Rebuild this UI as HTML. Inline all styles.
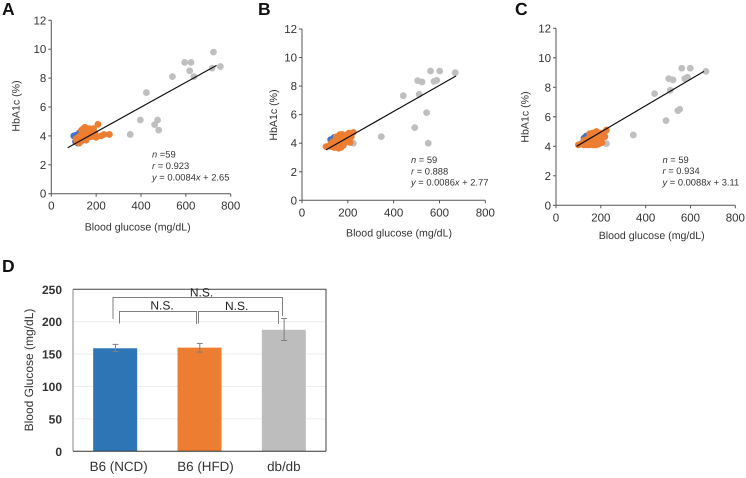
<!DOCTYPE html>
<html lang="en">
<head>
<meta charset="utf-8">
<title>Blood glucose and HbA1c figure</title>
<style>
html,body{margin:0;padding:0;background:#fff;}
body{width:746px;height:478px;overflow:hidden;}
svg{display:block;font-family:"Liberation Sans",sans-serif;text-rendering:geometricPrecision;filter:blur(0.3px);}
</style>
</head>
<body>
<svg id="figure" xmlns="http://www.w3.org/2000/svg" width="746" height="478" viewBox="0 0 746 478"></svg>
<script>
/* ---------- Panel A ---------- */
const aGrayGlucose = [352,397,424,461,474,479,540,595,623,617,636,717,723,754];
const aGrayHba1c = [4.1,5.1,7.0,4.78,5.1,4.4,8.1,9.09,9.09,8.5,8.1,8.68,9.8,8.8];
const aBlueGlucose = [100,110,125,132,108,118,170,185,140,150];
const aBlueHba1c = [4.0,4.05,4.2,4.3,3.6,3.5,4.0,4.0,3.7,3.9];
const aOrangeGlucose = [259,235,222,208,200,195,188,180,170,160,150,143,135,155,145,155,130,125,115,110,120,140,165,180,150,128,170];
const aOrangeHba1c = [4.1,4.1,4.0,4.8,3.9,4.2,4.5,4.1,4.2,4.3,4.6,4.5,4.4,4.0,3.9,3.7,3.7,3.5,3.6,3.8,3.9,4.1,3.9,3.95,4.3,4.0,4.5];
const aTrendGlucose = [73,737];
const aTrendHba1c = [3.18,8.88];
const aStats = ["=59","= 0.923","= 0.0084","+ 2.65"];

/* ---------- Panel B ---------- */
const bGrayGlucose = [224,346,442,492,505,511,524,544,551,561,601,576,588,669];
const bGrayHba1c = [4.0,4.46,7.33,5.09,8.38,7.42,8.29,6.14,4.0,9.06,9.06,8.33,8.4,8.94];
const bBlueGlucose = [125,140,150];
const bBlueHba1c = [4.25,4.4,4.3];
const bOrangeGlucose = [105,118,130,140,150,160,170,180,125,135,145,155,165,175,185,195,205,215,224,150,160,170,180,190,200,210,165,175,185,140,150,195,205];
const bOrangeHba1c = [3.76,3.8,3.75,3.7,3.7,3.65,3.7,3.85,3.95,4.1,4.2,4.3,4.4,4.5,4.55,4.6,4.5,4.45,4.76,3.95,4.05,4.15,4.3,4.2,4.4,4.05,4.6,4.62,4.0,3.9,4.45,4.35,4.7];
const bTrendGlucose = [105,672];
const bTrendHba1c = [3.53,8.71];
const bStats = ["= 59","= 0.888","= 0.0086","+ 2.77"];

/* ---------- Panel C ---------- */
const cGrayGlucose = [225,345,440,491,503,510,522,544,552,561,599,575,587,669];
const cGrayHba1c = [4.18,4.77,7.57,5.74,8.59,7.8,8.5,6.42,6.51,9.29,9.29,8.59,8.68,9.08];
const cBlueGlucose = [125,135,115];
const cBlueHba1c = [4.55,4.7,4.2];
const cOrangeGlucose = [100,112,125,138,150,165,178,190,205,125,140,155,170,185,200,150,165,180,195,210,225,215,160,175,190,205,218,140,155,170,185,198,210];
const cOrangeHba1c = [4.1,4.15,4.1,4.1,4.1,4.1,4.1,4.15,4.25,4.4,4.5,4.6,4.7,4.8,4.7,4.85,4.9,5.0,4.9,4.8,5.1,4.85,4.4,4.5,4.45,4.55,4.65,4.25,4.3,4.3,4.3,4.6,4.9];
const cTrendGlucose = [92,660];
const cTrendHba1c = [4.0,9.08];
const cStats = ["= 59","= 0.934","= 0.0088","+ 3.11"];

/* ---------- Scatter axes ---------- */
const glucoseTicks = [0,200,400,600,800];
const hba1cTicks = [0,2,4,6,8,10,12];

/* ---------- Panel D ---------- */
const groupLabels = ["B6 (NCD)","B6 (HFD)","db/db"];
const groupMeans = [159,160,187.5];
const groupErrLow = [154,153,171];
const groupErrHigh = [165,166.5,205];
const barTicks = [0,50,100,150,200,250];

const GRAY = "#bfbfbf", BLUE = "#4472c4", ORANGE = "#ed7d31";
const NS = "http://www.w3.org/2000/svg";
const root = document.getElementById("figure");

function make(tag, attrs, parent, text) {
  const el = document.createElementNS(NS, tag);
  for (const k in attrs) el.setAttribute(k, attrs[k]);
  if (text !== undefined) el.textContent = text;
  (parent || root).appendChild(el);
  return el;
}

function drawDots(g, xs, ys, sx, sy, color, seriesName) {
  xs.forEach(function (v, i) {
    const c = make("circle", {cx: sx(v), cy: sy(ys[i]), r: 3.4, fill: color}, g);
    
    
  });
}

function drawScatter(p) {
  const sx = function (v) { return p.x0 + (v / 800) * (p.x1 - p.x0); };
  const sy = function (v) { return p.y0 - (v / 12) * (p.y0 - p.y1); };
  const g = make("g", {}, root);
  
  

  const letter = make("text", {x: p.letterX, y: 15, "font-size": 17.5, "font-weight": "bold", fill: "#111"}, g, p.letter);
  
  

  drawDots(g, p.gray[0], p.gray[1], sx, sy, GRAY, p.id + '-db-db');
  drawDots(g, p.blue[0], p.blue[1], sx, sy, BLUE, p.id + '-b6-ncd');
  drawDots(g, p.orange[0], p.orange[1], sx, sy, ORANGE, p.id + '-b6-hfd');

  const axisColor = "#555";
  const yAxis = make("line", {x1: p.x0, x2: p.x0, y1: sy(12), y2: sy(0), stroke: axisColor, "stroke-width": 1}, g);
  
  
  const xAxis = make("line", {x1: sx(0), x2: sx(800), y1: p.y0, y2: p.y0, stroke: axisColor, "stroke-width": 1}, g);
  
  

  hba1cTicks.forEach(function (t) {
    make("line", {x1: p.x0 - 3, x2: p.x0, y1: sy(t), y2: sy(t), stroke: axisColor, "stroke-width": 1}, g);
    const lab = make("text", {x: p.x0 - 5, y: sy(t) + 4, "font-size": 11.5, "text-anchor": "end", fill: "#333"}, g, String(t));
    
    
  });
  glucoseTicks.forEach(function (t) {
    make("line", {x1: sx(t), x2: sx(t), y1: p.y0, y2: p.y0 + 3, stroke: axisColor, "stroke-width": 1}, g);
    const lab = make("text", {x: sx(t), y: p.y0 + 16, "font-size": 11.5, "text-anchor": "middle", fill: "#333"}, g, String(t));
    
    
  });

  const trend = make("line", {x1: sx(p.trend[0][0]), x2: sx(p.trend[0][1]), y1: sy(p.trend[1][0]), y2: sy(p.trend[1][1]), stroke: "#111", "stroke-width": 1.2}, g);
  
  

  const xt = make("text", {x: p.xTitle[0], y: p.xTitle[1], "font-size": 10.6, "text-anchor": "middle", fill: "#333"}, g, "Blood glucose (mg/dL)");
  
  
  const yt = make("text", {transform: "translate(" + p.yTitle[0] + "," + p.yTitle[1] + ") rotate(-90)", "font-size": 10.6, "text-anchor": "middle", fill: "#333"}, g, "HbA1c (%)");
  
  

  const ann = make("text", {"font-size": 9.35, fill: "#333"}, g);
  
  
  const lines = [
    [["n", true], [" " + p.stats[0], false]],
    [["r", true], [" " + p.stats[1], false]],
    [["y", true], [" " + p.stats[2], false], ["x", true], [" " + p.stats[3], false]]
  ];
  lines.forEach(function (parts, i) {
    parts.forEach(function (part, j) {
      const attrs = {};
      if (j === 0) { attrs.x = p.annX; attrs.y = p.annY[i]; }
      if (part[1]) attrs["font-style"] = "italic";
      make("tspan", attrs, ann, part[0]);
    });
  });
}

drawScatter({id: "panel-a", letter: "A", letterX: 2, x0: 51.3, x1: 230.7, y0: 193.7, y1: 20.3,
  gray: [aGrayGlucose, aGrayHba1c], blue: [aBlueGlucose, aBlueHba1c], orange: [aOrangeGlucose, aOrangeHba1c],
  trend: [aTrendGlucose, aTrendHba1c], stats: aStats,
  xTitle: [137.7, 230.5], yTitle: [19.5, 106], annX: 152, annY: [157.5, 169, 180.5]});
drawScatter({id: "panel-b", letter: "B", letterX: 258, x0: 302, x1: 485.3, y0: 200.3, y1: 29,
  gray: [bGrayGlucose, bGrayHba1c], blue: [bBlueGlucose, bBlueHba1c], orange: [bOrangeGlucose, bOrangeHba1c],
  trend: [bTrendGlucose, bTrendHba1c], stats: bStats,
  xTitle: [399, 236.5], yTitle: [277, 115], annX: 411, annY: [163, 174.5, 185.5]});
drawScatter({id: "panel-c", letter: "C", letterX: 515, x0: 556, x1: 735.3, y0: 205.3, y1: 28.3,
  gray: [cGrayGlucose, cGrayHba1c], blue: [cBlueGlucose, cBlueHba1c], orange: [cOrangeGlucose, cOrangeHba1c],
  trend: [cTrendGlucose, cTrendHba1c], stats: cStats,
  xTitle: [651.7, 239], yTitle: [528.5, 117], annX: 662.5, annY: [163, 174, 185.5]});

/* ---------- Bar chart ---------- */
(function () {
  const left = 73, right = 326, top = 289.3, bottom = 451.3;
  const band = (right - left) / groupLabels.length;
  const barW = 44;
  const barColors = ["#2e75b6", "#ed7d31", "#bdbdbd"];
  const labelNudge = [3.5, 6, 0];
  const sy = function (v) { return bottom - (v / 250) * (bottom - top); };
  const g = make("g", {}, root);
  
  

  const letter = make("text", {x: 2, y: 272, "font-size": 17.5, "font-weight": "bold", fill: "#111"}, g, "D");
  
  

  barTicks.forEach(function (t) {
    if (t > 0 && t < 250) {
      const gl = make("line", {x1: left, x2: right, y1: sy(t), y2: sy(t), stroke: "#ececec", "stroke-width": 1}, g);
      
      
    }
    const lab = make("text", {x: 62, y: sy(t) + 4.5, "font-size": 12, "font-weight": "bold", "text-anchor": "end", fill: "#333"}, g, String(t));
    
    
  });

  groupLabels.forEach(function (name, i) {
    const cx = left + band * (i + 0.5);
    const bar = make("rect", {x: cx - barW / 2, y: sy(groupMeans[i]), width: barW, height: bottom - sy(groupMeans[i]), fill: barColors[i]}, g);
    
    

    const ex = cx + 0.3;
    const err = make("path", {
      d: "M" + (ex - 3) + " " + sy(groupErrHigh[i]) + "H" + (ex + 3) +
         "M" + ex + " " + sy(groupErrHigh[i]) + "V" + sy(groupErrLow[i]) +
         "M" + (ex - 3) + " " + sy(groupErrLow[i]) + "H" + (ex + 3),
      stroke: "#7f7f7f", "stroke-width": 1, fill: "none"}, g);
    
    

    const lab = make("text", {x: cx + labelNudge[i], y: 471, "font-size": 13.4, "text-anchor": "middle", fill: "#333"}, g, name);
    
    
  });

  const frame = make("path", {d: "M" + left + " " + top + "H" + right + "V" + bottom, stroke: "#444", "stroke-width": 1, fill: "none"}, g);
  
  
  const yAxis = make("line", {x1: left, x2: left, y1: top, y2: bottom, stroke: "#888", "stroke-width": 1}, g);
  
  
  const xAxis = make("line", {x1: left, x2: right, y1: bottom, y2: bottom, stroke: "#333", "stroke-width": 1}, g);
  
  

  const yt = make("text", {transform: "translate(33,370) rotate(-90)", "font-size": 12, "text-anchor": "middle", fill: "#333"}, g, "Blood Glucose (mg/dL)");
  
  

  const bracketOuter = make("path", {d: "M113 319V297.5H282.5V316", stroke: "#7f7f7f", "stroke-width": 1, fill: "none"}, g);
  
  
  const bracketLeft = make("path", {d: "M119.5 323.5V311.5H196.5V324", stroke: "#7f7f7f", "stroke-width": 1, fill: "none"}, g);
  
  
  const bracketRight = make("path", {d: "M198.5 323.5V311.5H278.5V324", stroke: "#7f7f7f", "stroke-width": 1, fill: "none"}, g);
  
  

  [[162, 309.5, 'ncd-hfd'], [236.7, 310, 'hfd-dbdb'], [201.5, 296.5, 'ncd-dbdb']].forEach(function (n) {
    const t = make("text", {x: n[0], y: n[1], "font-size": 12, "text-anchor": "middle", fill: "#222"}, g, "N.S.");
    
    
  });
})();
</script>
</body>
</html>
